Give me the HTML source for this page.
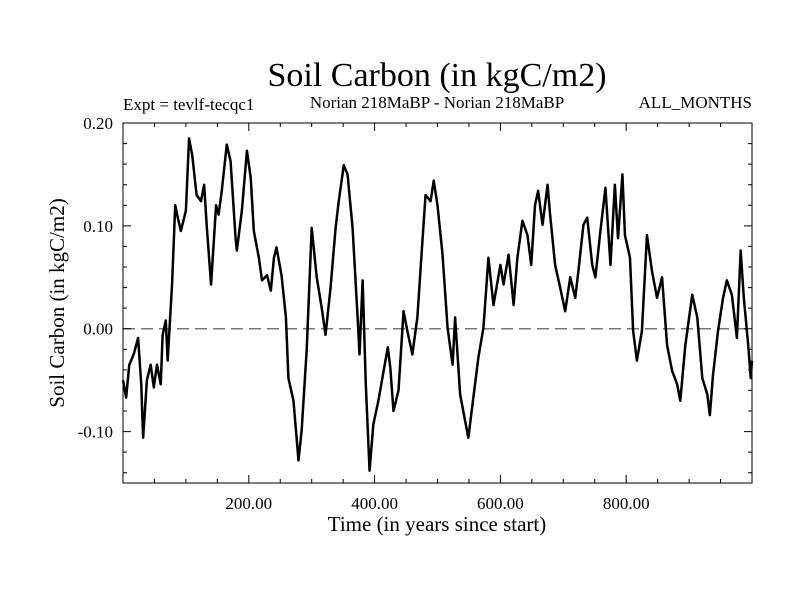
<!DOCTYPE html>
<html><head><meta charset="utf-8"><style>
body{margin:0;background:#fff}
svg{display:block;font-family:"Liberation Serif",serif}
</style></head><body>
<svg id="c" width="800" height="600">
<rect width="800" height="600" fill="#fff"/>
<text x="437" y="86" font-size="34" text-anchor="middle">Soil Carbon (in kgC/m2)</text>
<text x="123" y="110" font-size="17">Expt = tevlf-tecqc1</text>
<text x="437" y="108" font-size="17" text-anchor="middle">Norian 218MaBP - Norian 218MaBP</text>
<text x="752" y="108" font-size="17" text-anchor="end">ALL_MONTHS</text>
<text x="437" y="531" font-size="21" text-anchor="middle">Time (in years since start)</text>
<text x="0" y="0" font-size="21" text-anchor="middle" transform="translate(64,303) rotate(-90)">Soil Carbon (in kgC/m2)</text>
<g id="g"></g>
</svg>
<script>
const years=[0,5,10,17,24,29,32,38,44,49,54,60,63,68,71,78,83,86,92,100,105,110,117,124,129,133,140,148,152,157,165,171,179,181,189,197,203,208,216,221,229,235,240,244,252,259,263,271,279,284,292,300,308,316,322,330,338,343,351,357,365,373,376,381,386,392,398,406,421,425,430,438,446,452,460,468,476,481,489,494,500,508,516,524,528,536,549,557,565,573,581,589,600,605,613,621,627,635,643,649,655,660,667,675,679,687,695,703,711,719,724,732,738,746,751,759,767,775,782,787,794,798,806,811,817,825,833,841,849,857,865,873,881,886,894,905,913,921,929,933,938,946,954,960,968,976,982,987,994,998,1000];
const values=[-0.050,-0.067,-0.035,-0.025,-0.009,-0.054,-0.106,-0.050,-0.035,-0.057,-0.035,-0.054,-0.006,0.008,-0.031,0.043,0.120,0.111,0.095,0.115,0.185,0.169,0.130,0.124,0.140,0.101,0.043,0.120,0.111,0.134,0.179,0.163,0.088,0.076,0.115,0.173,0.147,0.095,0.069,0.047,0.052,0.037,0.069,0.079,0.052,0.011,-0.048,-0.070,-0.128,-0.099,-0.021,0.098,0.050,0.020,-0.006,0.040,0.098,0.124,0.159,0.150,0.098,0.011,-0.025,0.047,-0.054,-0.138,-0.093,-0.070,-0.018,-0.038,-0.080,-0.060,0.017,-0.002,-0.025,0.011,0.085,0.130,0.124,0.144,0.120,0.072,0.001,-0.035,0.011,-0.064,-0.106,-0.067,-0.028,0.001,0.069,0.023,0.062,0.043,0.072,0.023,0.069,0.105,0.091,0.062,0.120,0.134,0.101,0.140,0.111,0.062,0.040,0.017,0.050,0.030,0.056,0.101,0.108,0.062,0.050,0.095,0.137,0.062,0.140,0.088,0.150,0.091,0.069,-0.002,-0.031,-0.002,0.091,0.056,0.030,0.050,-0.016,-0.041,-0.054,-0.070,-0.016,0.033,0.011,-0.048,-0.064,-0.084,-0.045,-0.002,0.030,0.047,0.033,-0.009,0.076,0.030,-0.016,-0.048,-0.031];
const xTicks=[200,400,600,800];
const xTickLabels=["200.00","400.00","600.00","800.00"];
const yTicks=[0.2,0.1,0,-0.1];
const yTickLabels=["0.20","0.10","0.00","-0.10"];
const X0=123,X1=752,Y0=123,Y1=483,xmin=0,xmax=1000,ymin=-0.15,ymax=0.2;
const sx=v=>X0+(v-xmin)/(xmax-xmin)*(X1-X0);
const sy=v=>Y1-(v-ymin)/(ymax-ymin)*(Y1-Y0);
const NS="http://www.w3.org/2000/svg",g=document.getElementById('g');
function mk(t,a){const e=document.createElementNS(NS,t);for(const k in a)e.setAttribute(k,a[k]);g.appendChild(e);return e;}
let e;
e=mk('line',{x1:X0,x2:X1,y1:sy(0),y2:sy(0),stroke:'#777','stroke-width':1.5,'stroke-dasharray':'12,6'});


for(let v=50;v<1000;v+=50){const maj=v%200===0,L=maj?8:4;
 e=mk('path',{d:`M${sx(v)},${Y1}v${-L}M${sx(v)},${Y0}v${L}`,stroke:'#000','stroke-width':1});
 
 }
for(let i=0;i<=17;i++){const v=ymin+i*0.02+0.01;const maj=Math.abs(Math.round(v*10)-v*10)<1e-6,L=maj?8:4;
 e=mk('path',{d:`M${X0},${sy(v)}h${L}M${X1},${sy(v)}h${-L}`,stroke:'#000','stroke-width':1});
 
 }
xTicks.forEach((v,i)=>{e=mk('text',{x:sx(v),y:509,'font-size':17,'text-anchor':'middle'});e.textContent=xTickLabels[i];
 
 });
yTicks.forEach((v,i)=>{e=mk('text',{x:113,y:sy(v)+6,'font-size':17,'text-anchor':'end'});e.textContent=yTickLabels[i];
 
 });
e=mk('polyline',{points:years.map((y,i)=>sx(y)+','+sy(values[i])).join(' '),fill:'none',stroke:'#000','stroke-width':2.5,'stroke-linejoin':'round'});


e=mk('rect',{x:X0,y:Y0,width:X1-X0,height:Y1-Y0,fill:'none',stroke:'#000','stroke-width':1});


</script>
</body></html>
